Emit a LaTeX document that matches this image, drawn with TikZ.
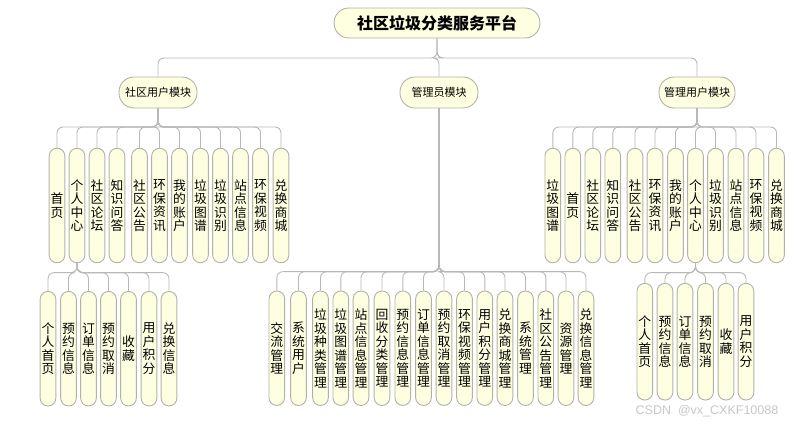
\documentclass[tikz,border=0pt]{standalone}
\usepackage{fontspec}
\setmainfont{Noto Sans CJK SC}
\newfontfamily\wmfont{Liberation Sans}
\definecolor{pillfill}{HTML}{FEFEE0}
\definecolor{bordergray}{HTML}{B2B2A8}
\definecolor{conngray}{HTML}{B8B8B8}
\tikzset{
  pill/.style={draw=bordergray, fill=pillfill, line width=0.9pt, rounded corners=7.8pt,
    minimum width=15.7pt, minimum height=114.5pt, inner sep=0pt, align=center,
    font=\fontsize{12.8}{13.5}\selectfont},
  modbox/.style={draw=bordergray, fill=pillfill, line width=0.9pt, rounded corners=15pt,
    minimum height=31pt, inner sep=0pt, font=\fontsize{11}{12}\selectfont},
  titlebox/.style={draw=bordergray, fill=pillfill, line width=0.9pt, rounded corners=15pt,
    minimum width=206pt, minimum height=30pt, inner sep=0pt, font=\fontsize{16}{18}\selectfont\bfseries},
  conn/.style={draw=conngray, line width=0.9pt, rounded corners=6pt}
}
\begin{document}
\begin{tikzpicture}[x=1pt,y=-1pt]
\useasboundingbox (0,0) rectangle (802,427);
\coordinate (topbus) at (0,58);
\coordinate (lbus) at (0,127);
\coordinate (rbus) at (0,127);
\coordinate (mbus) at (0,271.7);
\coordinate (lgbus) at (0,272.7);
\coordinate (rgbus) at (0,272.7);

\node[titlebox] (root) at (437,23) {社区垃圾分类服务平台};
\node[modbox, minimum width=78pt] (m1) at (158,92.5) {社区用户模块};
\node[modbox, minimum width=78pt] (m2) at (439,92.5) {管理员模块};
\node[modbox, minimum width=76pt] (m3) at (697,92.5) {管理用户模块};
\foreach \m in {m1,m2,m3}{
  \draw[conn] (root.south) -- (root.south |- topbus) -| (\m.north);
}

% left children
\foreach \x/\lab [count=\i] in {57/{首\\页}, 77/{个\\人\\中\\心}, 97/{社\\区\\论\\坛}, 117/{知\\识\\问\\答},
  139.5/{社\\区\\公\\告}, 159.5/{环\\保\\资\\讯}, 179.5/{我\\的\\账\\户}, 200.5/{垃\\圾\\图\\谱},
  220.5/{垃\\圾\\识\\别}, 240.5/{站\\点\\信\\息}, 260.5/{环\\保\\视\\频}, 281/{兑\\换\\商\\城}}{
  \node[pill] (L\i) at (\x,205.5) {\lab};
  \draw[conn] (m1.south) -- (m1.south |- lbus) -| (L\i.north);
}
% left grandchildren under L2
\foreach \x/\lab [count=\i] in {48/{个\\人\\首\\页}, 68.5/{预\\约\\信\\息}, 88.5/{订\\单\\信\\息},
  108.5/{预\\约\\取\\消}, 128.5/{收\\藏}, 149/{用\\户\\积\\分}, 169/{兑\\换\\信\\息}}{
  \node[pill] (LG\i) at (\x,348.7) {\lab};
  \draw[conn] (L2.south) -- (L2.south |- lgbus) -| (LG\i.north);
}

% middle children
\foreach \x/\lab [count=\i] in {276.8/{交\\流\\管\\理}, 298.5/{系\\统\\用\\户}, 320.5/{垃\\圾\\种\\类\\管\\理},
  340.8/{垃\\圾\\图\\谱\\管\\理}, 361/{站\\点\\信\\息\\管\\理}, 382/{回\\收\\分\\类\\管\\理},
  402.8/{预\\约\\信\\息\\管\\理}, 423.5/{订\\单\\信\\息\\管\\理}, 444/{预\\约\\取\\消\\管\\理},
  464.5/{环\\保\\视\\频\\管\\理}, 484.8/{用\\户\\积\\分\\管\\理}, 505/{兑\\换\\商\\城\\管\\理},
  525.5/{系\\统\\管\\理}, 545.8/{社\\区\\公\\告\\管\\理}, 566/{资\\源\\管\\理}, 586/{兑\\换\\信\\息\\管\\理}}{
  \node[pill] (M\i) at (\x,348.2) {\lab};
  \draw[conn] (m2.south) -- (m2.south |- mbus) -| (M\i.north);
}

% right children
\foreach \x/\lab [count=\i] in {552.8/{垃\\圾\\图\\谱}, 572.8/{首\\页}, 592.8/{社\\区\\论\\坛}, 612.8/{知\\识\\问\\答},
  635/{社\\区\\公\\告}, 655/{环\\保\\资\\讯}, 675.5/{我\\的\\账\\户}, 695.5/{个\\人\\中\\心},
  715.5/{垃\\圾\\识\\别}, 736/{站\\点\\信\\息}, 756/{环\\保\\视\\频}, 776.5/{兑\\换\\商\\城}}{
  \node[pill] (R\i) at (\x,205.5) {\lab};
  \draw[conn] (m3.south) -- (m3.south |- rbus) -| (R\i.north);
}
% right grandchildren under R8
\foreach \x/\lab [count=\i] in {644.8/{个\\人\\首\\页}, 665/{预\\约\\信\\息}, 685/{订\\单\\信\\息},
  705.5/{预\\约\\取\\消}, 726/{收\\藏}, 746/{用\\户\\积\\分}}{
  \node[pill, minimum height=116.7pt] (RG\i) at (\x,341.7) {\lab};
  \draw[conn] (R8.south) -- (R8.south |- rgbus) -| (RG\i.north);
}

\node[text=black!22, font=\wmfont\fontsize{12.5}{14}\selectfont, inner sep=0pt] (wm) at (707,411.5) {CSDN\ \ @vx\_CXKF10088};
\end{tikzpicture}
\end{document}
